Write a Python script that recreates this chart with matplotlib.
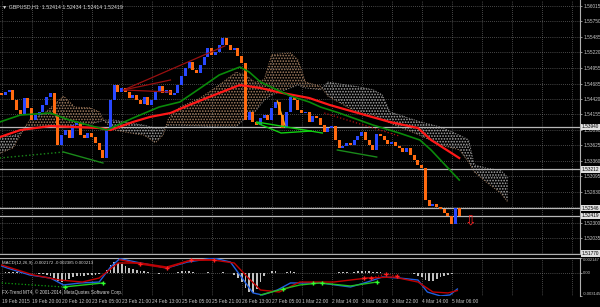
import numpy as np
import matplotlib
matplotlib.use('Agg')
import matplotlib.pyplot as plt
import matplotlib.transforms as mtransforms

plt.rcParams['font.family'] = ['Liberation Sans', 'DejaVu Sans']
plt.rcParams['hatch.linewidth'] = 0.8

# ---- price data: one candle every 2 H1 bars, bar 0 = 19 Feb 2015 00:00
first_open = 1.5452
closes = [1.54489, 1.54540, 1.54575, 1.54403, 1.54232, 1.54163, 1.54437, 1.54266, 1.54060, 1.54146,
          1.54197, 1.54317, 1.54455, 1.54523, 1.54146, 1.53631, 1.53803, 1.53889, 1.53751, 1.53974,
          1.54009, 1.53803, 1.53751, 1.53837, 1.53769, 1.53665, 1.53545, 1.53408, 1.53889, 1.54403,
          1.54660, 1.54540, 1.54609, 1.54540, 1.54437, 1.54489, 1.54403, 1.54334, 1.54455, 1.54317,
          1.54403, 1.54540, 1.54643, 1.54523, 1.54575, 1.54489, 1.54523, 1.54660, 1.54815, 1.54952,
          1.55055, 1.54918, 1.54866, 1.55003, 1.55141, 1.55295, 1.55175, 1.55226, 1.55346, 1.55466,
          1.55346, 1.55261, 1.55295, 1.55158, 1.55038, 1.54060, 1.54197, 1.54026, 1.53974, 1.54094,
          1.54146, 1.54060, 1.54266, 1.54369, 1.54146, 1.53923, 1.54197, 1.54455, 1.54403, 1.54232,
          1.54180, 1.54197, 1.54026, 1.54129, 1.54094, 1.53974, 1.53854, 1.53923, 1.53957, 1.53717,
          1.53580, 1.53614, 1.53665, 1.53631, 1.53717, 1.53786, 1.53854, 1.53717, 1.53631, 1.53545,
          1.53820, 1.53786, 1.53717, 1.53648, 1.53683, 1.53614, 1.53580, 1.53511, 1.53580, 1.53460,
          1.53374, 1.53288, 1.53237, 1.52688, 1.52585, 1.52619, 1.52568, 1.52534, 1.52465, 1.52414,
          1.52277, 1.52551, 1.52419]
hist = [1, 2, 2, 2, 2, 2, 1, 1, 1, 0, -1, -1, -2, -4, -7, -10, -12, -11, -8, -5,
        -3, -3, -3, -2, -2, -2, -1, 0, 5, 12, 16, 15, 13, 10, 8, 6, 5, 4, 3, 2,
        1, 0, -1, 0, 1, 1, 1, 2, 3, 3, 3, 2, 1, 1, 1, 2, 1, 1, 1, 2,
        1, 0, -2, -6, -12, -20, -26, -27, -22, -12, -3, 1, 3, 3, 1, 1, 2, 3, 2, 1,
        1, 1, 1, 1, 1, 1, 1, 1, 1, 1, 2, 2, 2, 1, 2, 3, 4, 4, 3, 2,
        2, 2, 1, 1, 1, 1, 1, 1, 1, 0, -1, -3, -5, -9, -11, -10, -8, -5, -3, -2,
        -1, 0, 0]

# moving averages
red_ma_bars = [-1, 10, 26, 52, 58, 70, 79, 90, 100, 116, 127, 138, 147, 164, 175, 190, 207, 222, 229, 244]
red_ma = [1.53768, 1.53888, 1.53957, 1.53923, 1.53888, 1.54026, 1.54112, 1.54180, 1.54317, 1.54523,
          1.54660, 1.54609, 1.54540, 1.54437, 1.54317, 1.54180, 1.54026, 1.53923, 1.53717, 1.53408]
green_ma_bars = [-1, 10, 26, 36, 52, 56, 70, 84, 95, 106, 116, 127, 132, 138, 147, 154, 164, 170, 180,
                 198, 212, 223, 229, 244]
green_ma = [1.54026, 1.54146, 1.54180, 1.54060, 1.53923, 1.53888, 1.54094, 1.54283, 1.54369, 1.54609,
            1.54832, 1.54969, 1.54883, 1.54712, 1.54575, 1.54472, 1.54369, 1.54283, 1.54180,
            1.53974, 1.53837, 1.53717, 1.53545, 1.53031]

# ichimoku cloud
cloud_bars = [-1, 6, 10, 12, 15, 23, 33, 39, 47, 52, 55, 60, 68, 76, 82, 86, 89, 95, 106, 116, 125, 130,
              135, 140, 144, 154, 158, 162, 170, 174, 190, 198, 203, 207, 223, 234, 244, 249, 252, 259,
              266, 270]
span_a = [1.5349, 1.5358, 1.5380, 1.5392, 1.5406, 1.5418, 1.5447, 1.5428, 1.5427, 1.5420, 1.5403,
          1.5389, 1.5384, 1.5380, 1.5367, 1.5380, 1.5409, 1.5428, 1.5444, 1.5466, 1.5488, 1.5483,
          1.5471, 1.5475, 1.5518, 1.5521, 1.5509, 1.5471, 1.5464, 1.5447, 1.5418, 1.5415, 1.5406,
          1.5401, 1.5380, 1.5363, 1.5355, 1.5334, 1.5317, 1.5298, 1.5281, 1.5265]
span_b = [1.5377, 1.5379, 1.5384, 1.5389, 1.5392, 1.5394, 1.5394, 1.5397, 1.5399, 1.5403, 1.5406,
          1.5406, 1.5401, 1.5397, 1.5392, 1.5392, 1.5397, 1.5397, 1.5396, 1.5394, 1.5394, 1.5410,
          1.5420, 1.5440, 1.5449, 1.5461, 1.5466, 1.5461, 1.5458, 1.5471, 1.5463, 1.5458, 1.5449,
          1.5420, 1.5403, 1.5394, 1.5380, 1.5372, 1.5329, 1.5323, 1.5320, 1.5307]

# drawn trend lines
darkred_lines = [([65, 119], [1.54575, 1.55330]), ([65, 90], [1.54575, 1.54540]), ([65, 90], [1.54575, 1.54746])]
darkred_dotted = ([172, 212], [1.54180, 1.53786])
green_lines = [([136, 171], [1.54026, 1.53837]), ([136, 149, 165], [1.54009, 1.53837, 1.53871])]
darkgreen_lines = [([179, 200], [1.53545, 1.53425]), ([33, 54], [1.53511, 1.53323])]
darkgreen_dotted = ([-1, 33], [1.53408, 1.53511])
orange_line = ([147, 151], [1.54386, 1.53974])
levels = [1.53940, 1.53212, 1.52546, 1.52419, 1.51770]
level_labels = ['1.53940', '1.53212', '1.52546', '1.52419', '1.51770']
arrow_bar, arrow_price = 249.8, 1.5233

price_ticks = [1.56015, 1.55750, 1.55485, 1.55220, 1.54955, 1.54685, 1.54420, 1.54155, 1.53890,
               1.53625, 1.53360, 1.53095, 1.52830, 1.52565, 1.52300, 1.52035]
time_labels = ['19 Feb 2015', '19 Feb 20:00', '20 Feb 12:00', '23 Feb 05:00', '23 Feb 21:00',
               '24 Feb 13:00', '25 Feb 05:00', '25 Feb 21:00', '26 Feb 13:00', '27 Feb 05:00',
               '1 Mar 22:00', '2 Mar 14:00', '3 Mar 06:00', '3 Mar 22:00', '4 Mar 14:00', '5 Mar 06:00']

# MACD lines
macd_bars = [0, 3, 15, 26, 33, 42, 52, 58, 63, 74, 88, 99, 113, 122, 127, 134, 139, 147, 154, 159, 170,
             186, 195, 203, 212, 222, 227, 234, 239, 243]
macd_main = [0.00103, 0.00075, -0.00022, -0.00064, -0.00161, -0.00133, -0.00120, 0.00089, 0.00205,
             0.00145, 0.00075, 0.00158, 0.00214, 0.00158, -0.00022, -0.00272, -0.00300, -0.00231,
             -0.00133, -0.00133, -0.00133, -0.00189, -0.00120, -0.00050, -0.00064, -0.00092, -0.00259,
             -0.00314, -0.00300, -0.00217]
sig_bars = [0, 17, 31, 43, 52, 62, 74, 88, 101, 113, 124, 131, 138, 148, 159, 177, 195, 209, 222, 230, 238, 243]
macd_signal = [0.00117, -0.00022, -0.00092, -0.00120, -0.00064, 0.00145, 0.00145, 0.00089, 0.00186,
               0.00186, 0.00145, -0.00050, -0.00231, -0.00259, -0.00120, -0.00120, -0.00064, -0.00050,
               -0.00120, -0.00259, -0.00272, -0.00239]
red_div_bars = [63, 74, 88, 101, 113]
red_div = [0.00190, 0.00130, 0.00075, 0.00186, 0.00190]
red_marks_bars = [74, 88, 101, 113, 193, 197, 205, 211]
red_marks = [0.00130, 0.00075, 0.00186, 0.00186, -0.00064, -0.00064, -0.00008, -0.00036]
green_div_bars = [33, 54]
green_div = [-0.00189, -0.00133]
green_div2_bars = [138, 150, 159, 170, 186, 200]
green_div2 = [-0.00300, -0.00217, -0.00161, -0.00133, -0.00175, -0.00120]
green_marks_bars = [34, 54, 150, 166, 171, 200]
green_marks = [-0.00189, -0.00133, -0.00217, -0.00133, -0.00133, -0.00120]

txt = '#c8c8c8'
grid_kw = dict(color='#8a8a8a', lw=0.5, ls=(0, (1, 2)), zorder=0)
xmin, xmax = -0.9, 308.4

fig = plt.figure(figsize=(6, 3.07), dpi=100, facecolor='black')
ax = fig.add_axes([0, 1 - 254 / 307, 580 / 600, 254 / 307], facecolor='black')
ax2 = fig.add_axes([0, 1 - 296 / 307, 580 / 600, 38 / 307], facecolor='black')

for a in (ax, ax2):
    a.set_xlim(xmin, xmax)
    for b in range(0, 309, 16):
        a.axvline(b, **grid_kw)
    for s in ('left', 'bottom', 'top'):
        a.spines[s].set_visible(False)
    a.spines['right'].set_color('#b0b0b0')
ax.spines['bottom'].set_visible(True)
ax.spines['bottom'].set_color('#b0b0b0')
ax2.spines['top'].set_visible(True)
ax2.spines['top'].set_color('#b0b0b0')

ax.set_ylim(1.51762, 1.56118)
for p in price_ticks:
    ax.axhline(p, **grid_kw)

# cloud
sa = np.array(span_a)
sb = np.array(span_b)
ax.fill_between(cloud_bars, sa, sb, where=sa >= sb, interpolate=True, facecolor='none',
                edgecolor='#a88264', hatch='......', linewidth=0, zorder=1)
ax.fill_between(cloud_bars, sa, sb, where=sa < sb, interpolate=True, facecolor='none',
                edgecolor='#a8a8a8', hatch='......', linewidth=0, zorder=1)
ax.plot(cloud_bars, span_a, color='#a07858', lw=0.7, ls=':', zorder=1)
ax.plot(cloud_bars, span_b, color='#909090', lw=0.7, ls=':', zorder=1)

# levels
for lv in levels:
    ax.axhline(lv, color='#b8b8b8', lw=0.9, zorder=2)

# candles
cl = np.array(closes)
op = np.concatenate([[first_open], cl[:-1]])
cbars = np.arange(len(cl)) * 2
cols = np.where(cl >= op, '#2848ff', '#ff6a10')
ax.bar(cbars, cl - op, bottom=op, width=1.6, color=cols, linewidth=0, zorder=3)

# MAs
ax.plot(red_ma_bars, red_ma, color='#ff1818', lw=1.6, zorder=4)
ax.plot(green_ma_bars, green_ma, color='#0a8a0a', lw=1.2, zorder=4)

for xs, ys in darkred_lines:
    ax.plot(xs, ys, color='#9a1010', lw=0.9, zorder=4)
ax.plot(*darkred_dotted, color='#b01010', lw=0.9, ls=':', zorder=4)
for xs, ys in green_lines:
    ax.plot(xs, ys, color='#10d010', lw=1.0, zorder=4)
for xs, ys in darkgreen_lines:
    ax.plot(xs, ys, color='#1a8a1a', lw=1.0, zorder=4)
ax.plot(*darkgreen_dotted, color='#1a8a1a', lw=1.0, ls=':', zorder=4)
ax.plot(*orange_line, color='#ffa010', lw=1.0, zorder=4)
ax.text(arrow_bar, arrow_price, '\u21e9', color='#ff2020', fontsize=10, ha='center', va='center',
        family='DejaVu Sans', zorder=5)

# price scale
ax.yaxis.tick_right()
ax.set_yticks(price_ticks, ['%.5f' % p for p in price_ticks])
ax.tick_params(axis='y', colors=txt, labelsize=3.4, length=1.5, pad=0.8, width=0.5)
ax.set_xticks([])
blend = mtransforms.blended_transform_factory(ax.transAxes, ax.transData)
for lv, lab in zip(levels, level_labels):
    ax.text(1.0035, lv, lab, transform=blend, fontsize=3.4, color='black', va='center', ha='left',
            bbox=dict(boxstyle='square,pad=0.12', facecolor='#e0e0e0', edgecolor='none'), clip_on=False)

ax.text(0.004, 0.985, '\u25bc GBPUSD,H1  1.52414 1.52434 1.52414 1.52419', transform=ax.transAxes,
        color='#d8d8d8', fontsize=3.8, va='top', ha='left')

# MACD window
ax2.set_ylim(-0.003145, 0.002147)
ax2.axhline(0, **grid_kw)
ax2.bar(cbars, np.array(hist) * 1e-4, width=1.0, color='#c0c0c0', linewidth=0, zorder=2)
ax2.plot(macd_bars, macd_main, color='#2060e0', lw=1.0, zorder=3)
ax2.plot(sig_bars, macd_signal, color='#c00000', lw=1.0, zorder=3)
ax2.plot(red_div_bars, red_div, color='#c00000', lw=1.0, zorder=4)
ax2.plot(red_marks_bars[4:], red_marks[4:], color='#e00000', lw=0.8, ls=':', zorder=4)
ax2.plot(red_marks_bars, red_marks, 'P', color='#ff2020', ms=3, mew=0, ls='none', zorder=5)
ax2.plot(green_div_bars, green_div, color='#20d020', lw=1.0, zorder=4)
ax2.plot([0, 33], [-0.00133, -0.00189], color='#10a010', lw=0.9, ls=':', zorder=4)
ax2.plot(green_div2_bars, green_div2, color='#20c020', lw=1.0, zorder=4)
ax2.plot(green_marks_bars, green_marks, 'P', color='#30ff30', ms=3, mew=0, ls='none', zorder=5)

ax2.yaxis.tick_right()
ax2.set_yticks([0.002147, 0.0, -0.003145], ['0.002147', '0.00', '-0.003145'])
ax2.tick_params(axis='y', colors=txt, labelsize=3.0, length=1.5, pad=0.6, width=0.5)
for lab, va in zip(ax2.get_yticklabels(), ['top', 'center', 'bottom']):
    lab.set_va(va)
ax2.set_xticks(range(0, 16 * len(time_labels), 16), time_labels)
ax2.tick_params(axis='x', colors=txt, labelsize=3.5, length=0, pad=2.5)
for lab in ax2.get_xticklabels():
    lab.set_ha('left')

ax2.text(0.004, 0.93, 'MACD(12,26,9) -0.002172 -0.002385 0.000213', transform=ax2.transAxes,
         color='#d8d8d8', fontsize=3.2, va='top', ha='left')
ax2.text(0.004, 0.03, 'FX-Trend MT4, \u00a9 2001-2014, MetaQuotes Software Corp.', transform=ax2.transAxes,
         color='#d8d8d8', fontsize=3.3, va='bottom', ha='left')

fig.savefig('out.png', dpi=100, facecolor='black')
